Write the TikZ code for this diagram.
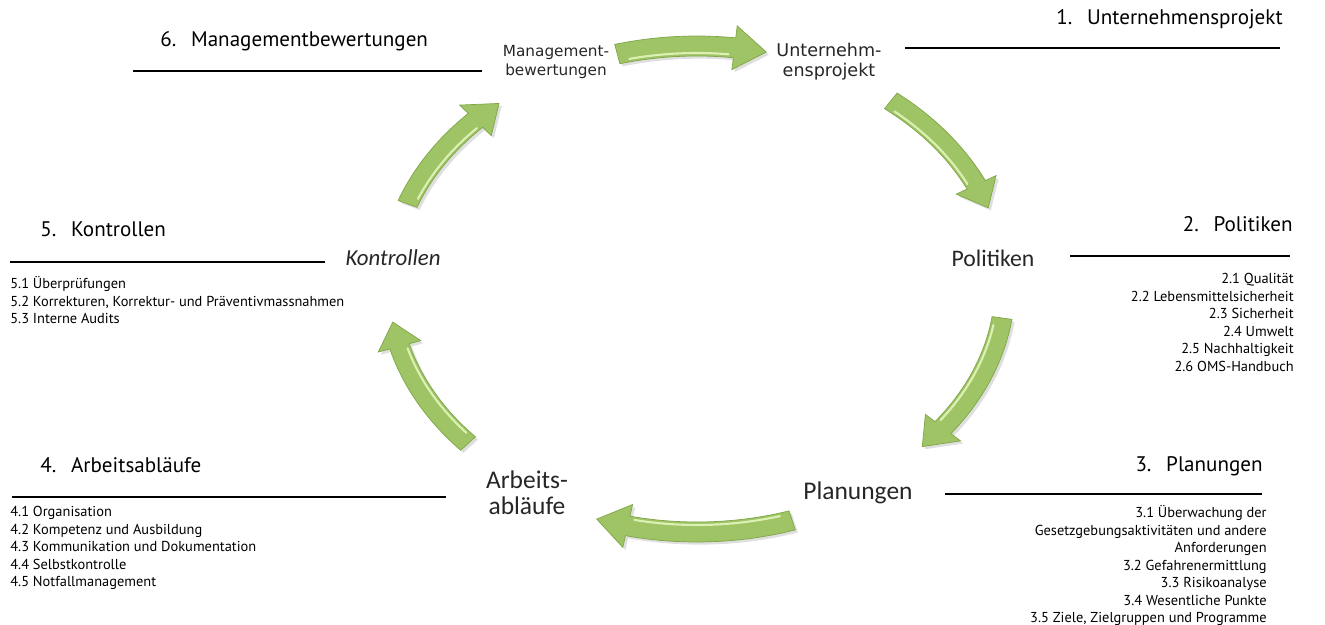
\documentclass[tikz,border=0pt]{standalone}
\usepackage{fontspec}
\setmainfont{PT Sans}
\newfontfamily\widefont{DejaVu Sans}
\newfontfamily\calfont{Carlito}
\usetikzlibrary{shadows}
\definecolor{arrowgreen}{HTML}{9EC465}
\definecolor{arrowdark}{HTML}{7FA646}
\definecolor{arrowlight}{HTML}{DDF0B4}
\tikzset{
  title/.style={font=\fontsize{12}{14}\selectfont, inner sep=0pt},
  items/.style={font=\fontsize{8.2}{10}\selectfont, inner sep=0pt},
  stage/.style={align=center, inner sep=0pt, text=black!85},
  rule/.style={line width=0.6pt, black},
  arrowbody/.style={fill=arrowgreen, draw=arrowdark, line width=0.4pt,
    drop shadow={opacity=0.25, shadow xshift=1.5pt, shadow yshift=-1.5pt}},
  arrowshine/.style={draw=arrowlight, line width=1.2pt, line cap=round}
}
% ring arrow: #1 tail angle, #2 tip angle, #3 vertical offset of the ring
\newcommand{\cyclearrow}[3]{%
  \pgfmathsetmacro{\headbase}{#2-6}
  \path[arrowbody] plot[domain=#1:\headbase, samples=25] ({697+318*cos(\x)},{#3+285+247*sin(\x)})
    -- ({697+330*cos(\headbase)},{#3+285+259*sin(\headbase)})
    -- ({697+308*cos(#2)},{#3+285+237*sin(#2)})
    -- ({697+286*cos(\headbase)},{#3+285+215*sin(\headbase)})
    -- plot[domain=\headbase:#1, samples=25] ({697+298*cos(\x)},{#3+285+227*sin(\x)})
    -- cycle;
  \draw[arrowshine] plot[domain=#1+2:\headbase-1, samples=25] ({697+301*cos(\x)},{#3+285+230*sin(\x)});
}

\begin{document}
\begin{tikzpicture}[x=0.02cm, y=-0.02cm]
  \useasboundingbox (0,0) rectangle (1325,625);

  % Kreis aus Pfeilen
  \cyclearrow{-105}{-77}{-2}
  \cyclearrow{-51}{-19}{0}
  \cyclearrow{8}{43}{0}
  \cyclearrow{72}{109}{10}
  \cyclearrow{138}{171}{0}
  \cyclearrow{200}{230}{0}

  % Stationen im Kreis
  \node (mgmt) [stage, font=\widefont\fontsize{8.7}{11}\selectfont] at (556,62) {Management-\\bewertungen};
  \node (projekt) [stage, font=\widefont\fontsize{10}{11.5}\selectfont] at (829,62) {Unternehm-\\ensprojekt};
  \node (politik) [stage, font=\calfont\fontsize{13.5}{15}\selectfont] at (993,258) {Politiken};
  \node (planung) [stage, font=\calfont\fontsize{14.5}{15}\selectfont] at (858,493) {Planungen};
  \node (ablauf) [stage, font=\calfont\fontsize{14.5}{15}\selectfont] at (527,493) {Arbeits-\\abläufe};
  \node (kontrolle) [stage, font=\calfont\fontsize{13}{15}\selectfont\itshape] at (393,258) {Kontrollen};

  % Überschriften mit Linien
  \node (t1) [title, anchor=base east] at (1283,25) {1.\hspace{0.7em}Unternehmensprojekt};
  \draw[rule] (905,48) -- (1280,48);
  \node (t2) [title, anchor=base east] at (1293,231) {2.\hspace{0.7em}Politiken};
  \draw[rule] (1070,256) -- (1290,256);
  \node (t3) [title, anchor=base east] at (1263,471) {3.\hspace{0.7em}Planungen};
  \draw[rule] (945,494) -- (1262,494);
  \node (t4) [title, anchor=base west] at (40,472) {4.\hspace{0.7em}Arbeitsabläufe};
  \draw[rule] (12,497) -- (446,497);
  \node (t5) [title, anchor=base west] at (40,236) {5.\hspace{0.7em}Kontrollen};
  \draw[rule] (10,262) -- (325,262);
  \node (t6) [title, anchor=base west] at (160,47) {6.\hspace{0.7em}Managementbewertungen};
  \draw[rule] (133,71) -- (482,71);

  % Unterpunkte
  \node (l2) [items, align=right, anchor=north east] at (1294,273)
    {2.1 Qualität\\2.2 Lebensmittelsicherheit\\2.3 Sicherheit\\2.4 Umwelt\\2.5 Nachhaltigkeit\\2.6 OMS-Handbuch};
  \node (l3) [items, align=right, anchor=north east] at (1267,505)
    {3.1 Überwachung der\\Gesetzgebungsaktivitäten und andere\\Anforderungen\\3.2 Gefahrenermittlung\\3.3 Risikoanalyse\\3.4 Wesentliche Punkte\\3.5 Ziele, Zielgruppen und Programme};
  \node (l4) [items, align=left, anchor=north west] at (10,506)
    {4.1 Organisation\\4.2 Kompetenz und Ausbildung\\4.3 Kommunikation und Dokumentation\\4.4 Selbstkontrolle\\4.5 Notfallmanagement};
  \node (l5) [items, align=left, anchor=north west] at (10,276)
    {5.1 Überprüfungen\\5.2 Korrekturen, Korrektur- und Präventivmassnahmen\\5.3 Interne Audits};
\end{tikzpicture}
\end{document}
